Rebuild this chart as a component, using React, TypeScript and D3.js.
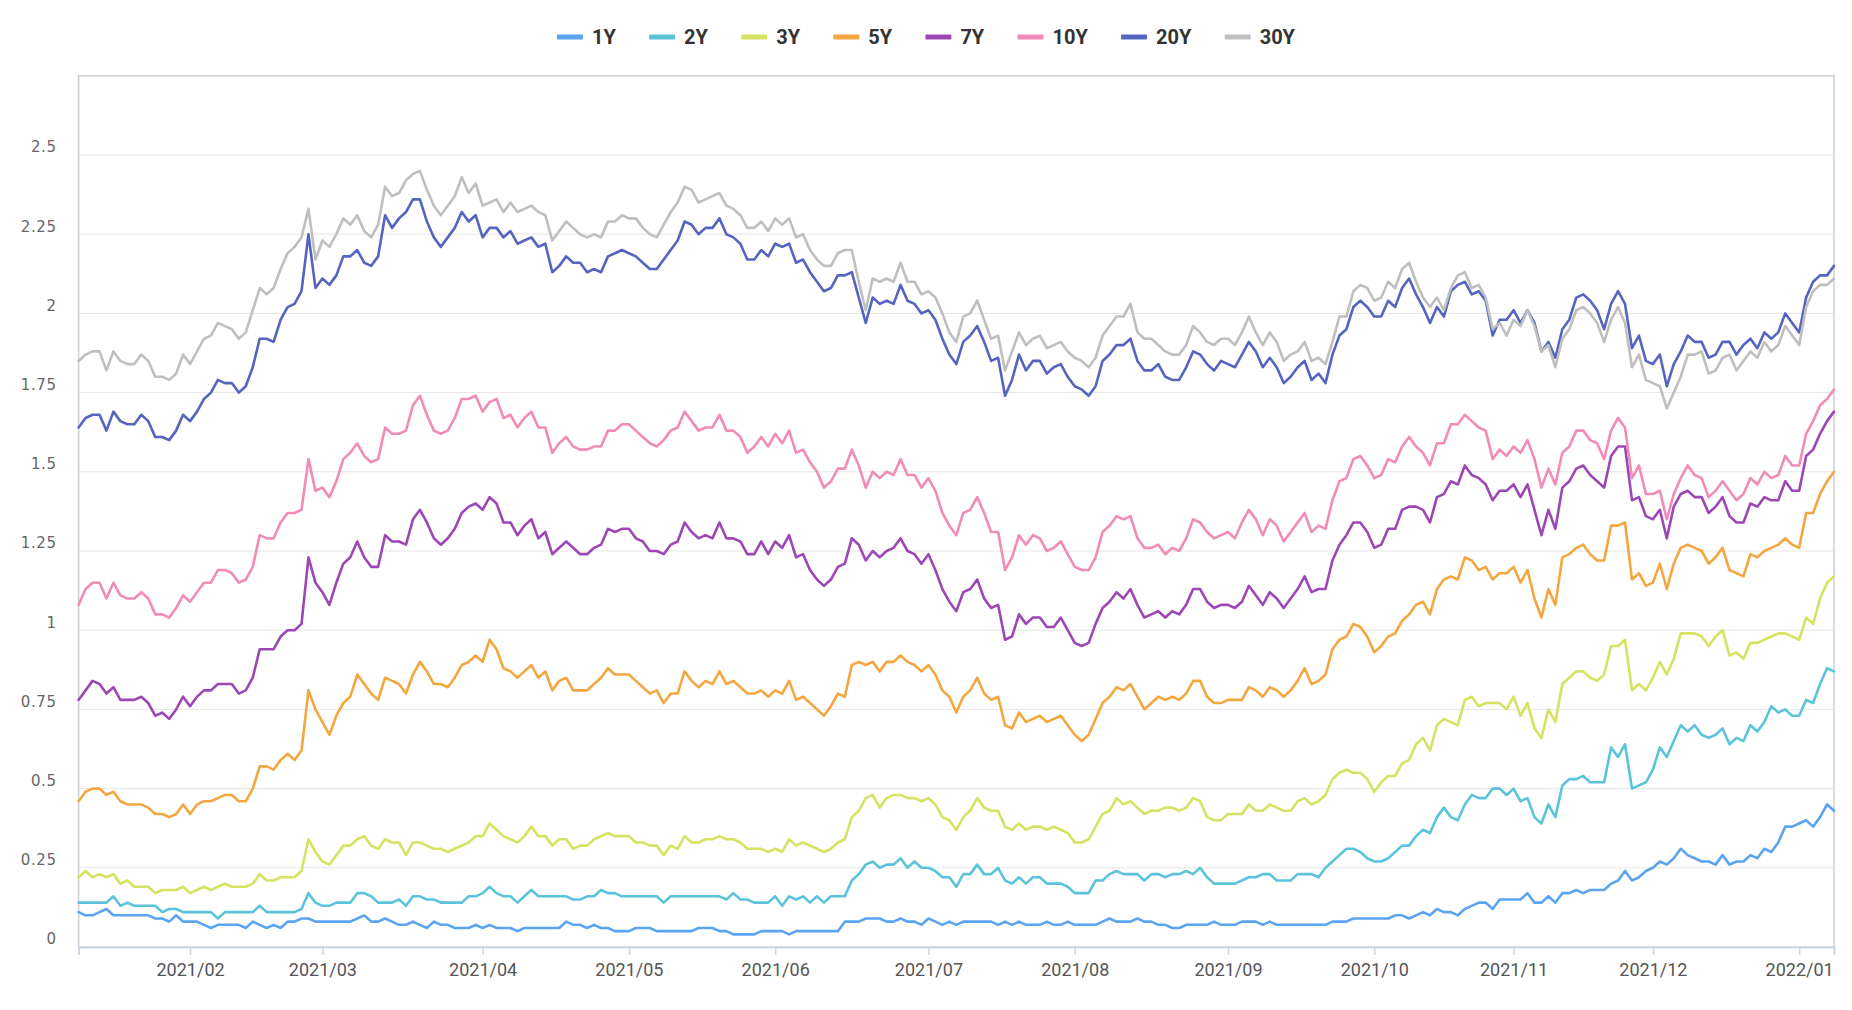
import React, { useEffect, useRef } from 'react';
import * as d3 from 'd3';

const W = 1852;
const H = 1010;

const seriesNames = ['1Y', '2Y', '3Y', '5Y', '7Y', '10Y', '20Y', '30Y'];
const seriesColors = ['#5ba4f2', '#5bc4da', '#d6e262', '#f4a641', '#9d47b6', '#f18bb7', '#5564bf', '#bfbfbf'];

const tickLabels = ['2021/02', '2021/03', '2021/04', '2021/05', '2021/06', '2021/07', '2021/08', '2021/09', '2021/10', '2021/11', '2021/12', '2022/01'];
const tickIndex = [16, 35, 58, 79, 100, 122, 143, 165, 186, 206, 226, 247];
const yTickValues = [0, 0.25, 0.5, 0.75, 1, 1.25, 1.5, 1.75, 2, 2.25, 2.5];

const y1 = [
  0.11,0.10,0.10,0.11,0.12,0.10,0.10,0.10,0.10,0.10,0.10,0.09,0.09,0.08,0.10,0.08,0.08,0.08,0.07,0.06,0.07,0.07,0.07,0.07,0.06,0.08,0.07,0.06,0.07,0.06,0.08,0.08,0.09,
  0.09,0.08,0.08,0.08,0.08,0.08,0.08,0.09,0.10,0.08,0.08,0.09,0.08,0.07,0.07,0.08,0.07,0.06,0.08,0.07,0.07,0.06,0.06,0.06,0.07,0.06,0.07,0.06,0.06,0.06,0.05,0.06,
  0.06,0.06,0.06,0.06,0.06,0.08,0.07,0.07,0.06,0.07,0.06,0.06,0.05,0.05,0.05,0.06,0.06,0.06,0.05,0.05,0.05,0.05,0.05,0.05,0.06,0.06,0.06,0.05,0.05,0.04,0.04,0.04,
  0.04,0.05,0.05,0.05,0.05,0.04,0.05,0.05,0.05,0.05,0.05,0.05,0.05,0.08,0.08,0.08,0.09,0.09,0.09,0.08,0.08,0.09,0.08,0.08,0.07,0.09,0.08,0.07,0.08,0.07,0.08,
  0.08,0.08,0.08,0.08,0.07,0.08,0.07,0.08,0.07,0.07,0.07,0.08,0.07,0.07,0.08,0.07,0.07,0.07,0.07,0.08,0.09,0.08,0.08,0.08,0.09,0.08,0.08,0.07,0.07,0.06,0.06,0.07,
  0.07,0.07,0.07,0.08,0.07,0.07,0.07,0.08,0.08,0.08,0.07,0.08,0.07,0.07,0.07,0.07,0.07,0.07,0.07,0.07,0.08,0.08,0.08,0.09,0.09,0.09,0.09,0.09,0.09,0.10,0.10,
  0.09,0.10,0.11,0.10,0.12,0.11,0.11,0.10,0.12,0.13,0.14,0.14,0.12,0.15,0.15,0.15,0.15,0.17,0.14,0.14,0.16,0.14,0.17,0.17,0.18,0.17,0.18,0.18,0.18,0.20,0.21,0.24,
  0.21,0.22,0.24,0.25,0.27,0.26,0.28,0.31,0.29,0.28,0.27,0.27,0.26,0.29,0.26,0.27,0.27,0.29,0.28,0.31,0.30,0.33,0.38,0.38,0.39,0.40,0.38,0.41,0.45,0.43,
];

const y2 = [
  0.14,0.14,0.14,0.14,0.14,0.16,0.13,0.14,0.13,0.13,0.13,0.13,0.11,0.12,0.12,0.11,0.11,0.11,0.11,0.11,0.09,0.11,0.11,0.11,0.11,0.11,0.13,0.11,0.11,0.11,0.11,0.11,0.12,
  0.17,0.14,0.13,0.13,0.14,0.14,0.14,0.17,0.17,0.16,0.14,0.14,0.14,0.15,0.13,0.16,0.16,0.15,0.15,0.14,0.14,0.14,0.14,0.16,0.16,0.17,0.19,0.17,0.16,0.16,0.14,0.16,
  0.18,0.16,0.16,0.16,0.16,0.16,0.15,0.15,0.16,0.16,0.18,0.17,0.17,0.16,0.16,0.16,0.16,0.16,0.16,0.14,0.16,0.16,0.16,0.16,0.16,0.16,0.16,0.16,0.15,0.17,0.15,0.15,
  0.14,0.14,0.14,0.16,0.13,0.16,0.15,0.16,0.14,0.16,0.14,0.16,0.16,0.16,0.21,0.23,0.26,0.27,0.25,0.26,0.26,0.28,0.25,0.27,0.25,0.25,0.24,0.22,0.22,0.19,0.23,
  0.23,0.26,0.23,0.23,0.25,0.21,0.20,0.22,0.20,0.22,0.22,0.20,0.20,0.20,0.19,0.17,0.17,0.17,0.21,0.21,0.23,0.24,0.23,0.23,0.23,0.21,0.23,0.23,0.22,0.23,0.23,0.24,
  0.23,0.25,0.22,0.20,0.20,0.20,0.20,0.21,0.22,0.22,0.23,0.23,0.21,0.21,0.21,0.23,0.23,0.23,0.22,0.25,0.27,0.29,0.31,0.31,0.30,0.28,0.27,0.27,0.28,0.30,0.32,
  0.32,0.35,0.37,0.36,0.41,0.44,0.41,0.40,0.45,0.48,0.47,0.47,0.50,0.50,0.48,0.50,0.46,0.47,0.41,0.39,0.45,0.41,0.51,0.53,0.53,0.54,0.52,0.52,0.52,0.63,0.60,0.64,
  0.50,0.51,0.52,0.56,0.63,0.60,0.65,0.70,0.68,0.70,0.67,0.66,0.67,0.69,0.64,0.66,0.65,0.70,0.68,0.71,0.76,0.74,0.75,0.73,0.73,0.78,0.77,0.83,0.88,0.87,
];

const y3 = [
  0.22,0.24,0.22,0.23,0.22,0.23,0.20,0.21,0.19,0.19,0.19,0.17,0.18,0.18,0.18,0.19,0.17,0.18,0.19,0.18,0.19,0.20,0.19,0.19,0.19,0.20,0.23,0.21,0.21,0.22,0.22,0.22,0.24,
  0.34,0.30,0.27,0.26,0.29,0.32,0.32,0.34,0.35,0.32,0.31,0.34,0.33,0.33,0.29,0.33,0.33,0.32,0.31,0.31,0.30,0.31,0.32,0.33,0.35,0.35,0.39,0.37,0.35,0.34,0.33,0.35,
  0.38,0.35,0.35,0.32,0.34,0.34,0.31,0.32,0.32,0.34,0.35,0.36,0.35,0.35,0.35,0.33,0.33,0.32,0.32,0.29,0.32,0.31,0.35,0.33,0.33,0.34,0.34,0.35,0.34,0.34,0.33,0.31,
  0.31,0.31,0.30,0.31,0.30,0.34,0.32,0.33,0.32,0.31,0.30,0.31,0.33,0.34,0.41,0.43,0.47,0.48,0.44,0.47,0.48,0.48,0.47,0.47,0.46,0.47,0.45,0.41,0.40,0.37,0.41,
  0.43,0.47,0.44,0.43,0.43,0.38,0.37,0.39,0.37,0.38,0.38,0.37,0.38,0.37,0.36,0.33,0.33,0.34,0.38,0.42,0.43,0.47,0.45,0.46,0.44,0.42,0.43,0.43,0.44,0.44,0.43,0.44,
  0.47,0.46,0.41,0.40,0.40,0.42,0.42,0.42,0.45,0.43,0.43,0.45,0.44,0.43,0.43,0.46,0.47,0.45,0.46,0.48,0.53,0.55,0.56,0.55,0.55,0.53,0.49,0.52,0.54,0.54,0.58,
  0.59,0.64,0.66,0.62,0.70,0.72,0.71,0.70,0.78,0.79,0.76,0.77,0.77,0.77,0.75,0.79,0.73,0.77,0.69,0.66,0.75,0.71,0.83,0.85,0.87,0.87,0.85,0.84,0.86,0.95,0.95,0.97,
  0.81,0.83,0.81,0.85,0.90,0.86,0.91,0.99,0.99,0.99,0.98,0.95,0.98,1.00,0.92,0.93,0.91,0.96,0.96,0.97,0.98,0.99,0.99,0.98,0.97,1.04,1.02,1.10,1.15,1.17,
];

const y5 = [
  0.46,0.49,0.50,0.50,0.48,0.49,0.46,0.45,0.45,0.45,0.44,0.42,0.42,0.41,0.42,0.45,0.42,0.45,0.46,0.46,0.47,0.48,0.48,0.46,0.46,0.50,0.57,0.57,0.56,0.59,0.61,0.59,0.62,
  0.81,0.75,0.71,0.67,0.73,0.77,0.79,0.86,0.83,0.80,0.78,0.85,0.84,0.83,0.80,0.86,0.90,0.87,0.83,0.83,0.82,0.85,0.89,0.90,0.92,0.90,0.97,0.94,0.88,0.87,0.85,0.87,
  0.89,0.85,0.87,0.81,0.84,0.85,0.81,0.81,0.81,0.83,0.85,0.88,0.86,0.86,0.86,0.84,0.82,0.80,0.81,0.77,0.80,0.80,0.87,0.84,0.82,0.84,0.83,0.87,0.83,0.84,0.82,0.80,
  0.80,0.81,0.79,0.81,0.80,0.84,0.78,0.79,0.77,0.75,0.73,0.76,0.80,0.79,0.89,0.90,0.89,0.90,0.87,0.90,0.90,0.92,0.90,0.89,0.87,0.89,0.86,0.81,0.79,0.74,0.79,
  0.81,0.85,0.80,0.78,0.79,0.70,0.69,0.74,0.71,0.72,0.73,0.71,0.72,0.73,0.70,0.67,0.65,0.67,0.72,0.77,0.79,0.82,0.81,0.83,0.79,0.75,0.77,0.79,0.78,0.79,0.78,0.80,
  0.84,0.84,0.79,0.77,0.77,0.78,0.78,0.78,0.82,0.81,0.79,0.82,0.81,0.79,0.81,0.84,0.88,0.83,0.84,0.86,0.94,0.97,0.98,1.02,1.01,0.98,0.93,0.95,0.98,0.99,1.03,
  1.05,1.08,1.09,1.05,1.13,1.16,1.17,1.16,1.23,1.22,1.19,1.20,1.16,1.18,1.18,1.20,1.15,1.19,1.10,1.04,1.13,1.08,1.23,1.24,1.26,1.27,1.24,1.22,1.22,1.33,1.33,1.34,
  1.16,1.18,1.14,1.15,1.21,1.13,1.21,1.26,1.27,1.26,1.25,1.21,1.23,1.26,1.19,1.18,1.17,1.24,1.23,1.25,1.26,1.27,1.29,1.27,1.26,1.37,1.37,1.43,1.47,1.50,
];

const y7 = [
  0.78,0.81,0.84,0.83,0.80,0.82,0.78,0.78,0.78,0.79,0.77,0.73,0.74,0.72,0.75,0.79,0.76,0.79,0.81,0.81,0.83,0.83,0.83,0.80,0.81,0.85,0.94,0.94,0.94,0.98,1.00,1.00,1.02,
  1.23,1.15,1.12,1.08,1.15,1.21,1.23,1.28,1.23,1.20,1.20,1.30,1.28,1.28,1.27,1.35,1.38,1.34,1.29,1.27,1.29,1.32,1.37,1.39,1.40,1.38,1.42,1.40,1.34,1.34,1.30,1.33,
  1.35,1.29,1.31,1.24,1.26,1.28,1.26,1.24,1.24,1.26,1.27,1.32,1.31,1.32,1.32,1.29,1.28,1.25,1.25,1.24,1.27,1.28,1.34,1.31,1.29,1.30,1.29,1.34,1.29,1.29,1.28,1.24,
  1.24,1.28,1.24,1.28,1.26,1.30,1.23,1.24,1.19,1.16,1.14,1.16,1.20,1.21,1.29,1.27,1.22,1.25,1.23,1.25,1.26,1.29,1.25,1.24,1.21,1.24,1.19,1.13,1.09,1.06,1.12,
  1.13,1.16,1.10,1.07,1.08,0.97,0.98,1.05,1.02,1.04,1.04,1.01,1.01,1.04,1.00,0.96,0.95,0.96,1.02,1.07,1.09,1.12,1.10,1.13,1.08,1.04,1.05,1.06,1.04,1.06,1.05,1.08,
  1.13,1.13,1.09,1.07,1.08,1.08,1.07,1.09,1.14,1.11,1.08,1.12,1.10,1.07,1.10,1.13,1.17,1.12,1.13,1.13,1.22,1.27,1.30,1.34,1.34,1.31,1.26,1.27,1.32,1.32,1.38,
  1.39,1.39,1.38,1.34,1.42,1.43,1.47,1.46,1.52,1.49,1.48,1.46,1.41,1.44,1.44,1.46,1.42,1.46,1.38,1.30,1.38,1.32,1.45,1.47,1.51,1.52,1.49,1.47,1.45,1.55,1.58,1.58,
  1.41,1.42,1.36,1.35,1.38,1.29,1.39,1.43,1.44,1.42,1.42,1.37,1.39,1.42,1.36,1.34,1.34,1.40,1.39,1.42,1.41,1.41,1.47,1.44,1.44,1.55,1.57,1.62,1.66,1.69,
];

const y10 = [
  1.08,1.13,1.15,1.15,1.10,1.15,1.11,1.10,1.10,1.12,1.10,1.05,1.05,1.04,1.07,1.11,1.09,1.12,1.15,1.15,1.19,1.19,1.18,1.15,1.16,1.20,1.30,1.29,1.29,1.34,1.37,1.37,1.38,
  1.54,1.44,1.45,1.42,1.47,1.54,1.56,1.59,1.55,1.53,1.54,1.64,1.62,1.62,1.63,1.71,1.74,1.68,1.63,1.62,1.63,1.67,1.73,1.73,1.74,1.69,1.72,1.73,1.67,1.68,1.64,1.67,
  1.69,1.64,1.64,1.56,1.59,1.61,1.58,1.57,1.57,1.58,1.58,1.63,1.63,1.65,1.65,1.63,1.61,1.59,1.58,1.60,1.63,1.64,1.69,1.66,1.63,1.64,1.64,1.68,1.63,1.63,1.61,1.56,
  1.58,1.61,1.58,1.62,1.59,1.63,1.56,1.57,1.53,1.50,1.45,1.47,1.51,1.51,1.57,1.52,1.45,1.50,1.48,1.50,1.49,1.54,1.49,1.49,1.45,1.48,1.44,1.37,1.33,1.30,1.37,
  1.38,1.42,1.37,1.31,1.31,1.19,1.23,1.30,1.27,1.30,1.29,1.25,1.26,1.28,1.24,1.20,1.19,1.19,1.23,1.31,1.33,1.36,1.35,1.36,1.29,1.26,1.26,1.27,1.24,1.26,1.25,1.29,
  1.35,1.34,1.31,1.29,1.30,1.31,1.29,1.34,1.38,1.35,1.30,1.35,1.33,1.28,1.31,1.34,1.37,1.31,1.33,1.32,1.41,1.47,1.48,1.54,1.55,1.52,1.48,1.49,1.54,1.53,1.58,
  1.61,1.58,1.56,1.52,1.59,1.59,1.65,1.65,1.68,1.66,1.64,1.63,1.54,1.57,1.55,1.58,1.56,1.60,1.54,1.45,1.51,1.46,1.56,1.58,1.63,1.63,1.60,1.59,1.54,1.63,1.67,1.64,
  1.48,1.52,1.43,1.43,1.44,1.35,1.43,1.48,1.52,1.49,1.48,1.42,1.44,1.47,1.44,1.41,1.43,1.48,1.46,1.50,1.48,1.49,1.55,1.52,1.52,1.62,1.66,1.71,1.73,1.76,
];

const y20 = [
  1.64,1.67,1.68,1.68,1.63,1.69,1.66,1.65,1.65,1.68,1.66,1.61,1.61,1.60,1.63,1.68,1.66,1.69,1.73,1.75,1.79,1.78,1.78,1.75,1.77,1.83,1.92,1.92,1.91,1.98,2.02,2.03,2.07,
  2.25,2.08,2.11,2.09,2.12,2.18,2.18,2.20,2.16,2.15,2.18,2.31,2.27,2.30,2.32,2.36,2.36,2.29,2.24,2.21,2.24,2.27,2.32,2.29,2.31,2.24,2.27,2.27,2.24,2.26,2.22,2.23,
  2.24,2.21,2.22,2.13,2.15,2.18,2.16,2.16,2.13,2.14,2.13,2.18,2.19,2.20,2.19,2.18,2.16,2.14,2.14,2.17,2.20,2.23,2.29,2.28,2.25,2.27,2.27,2.30,2.25,2.24,2.22,2.17,
  2.17,2.20,2.18,2.22,2.21,2.22,2.16,2.17,2.13,2.10,2.07,2.08,2.12,2.12,2.13,2.05,1.97,2.05,2.03,2.04,2.03,2.09,2.04,2.03,2.00,2.01,1.98,1.92,1.87,1.84,1.91,
  1.93,1.96,1.91,1.85,1.86,1.74,1.79,1.87,1.82,1.85,1.85,1.81,1.83,1.84,1.80,1.77,1.76,1.74,1.77,1.85,1.87,1.90,1.90,1.92,1.85,1.82,1.82,1.84,1.80,1.79,1.79,1.83,
  1.88,1.87,1.84,1.82,1.85,1.84,1.83,1.87,1.91,1.88,1.83,1.86,1.83,1.78,1.80,1.83,1.85,1.79,1.81,1.78,1.87,1.93,1.95,2.02,2.04,2.02,1.99,1.99,2.04,2.02,2.08,
  2.11,2.06,2.02,1.97,2.02,1.99,2.07,2.09,2.10,2.06,2.07,2.04,1.93,1.98,1.98,2.01,1.97,2.01,1.97,1.88,1.91,1.86,1.95,1.98,2.05,2.06,2.04,2.01,1.95,2.03,2.07,2.03,
  1.89,1.93,1.85,1.84,1.87,1.77,1.84,1.88,1.93,1.91,1.91,1.86,1.87,1.91,1.91,1.87,1.90,1.92,1.89,1.94,1.92,1.94,2.00,1.97,1.94,2.05,2.10,2.12,2.12,2.15,
];

const y30 = [
  1.85,1.87,1.88,1.88,1.82,1.88,1.85,1.84,1.84,1.87,1.85,1.80,1.80,1.79,1.81,1.87,1.84,1.88,1.92,1.93,1.97,1.96,1.95,1.92,1.94,2.01,2.08,2.06,2.08,2.14,2.19,2.21,2.24,
  2.33,2.17,2.23,2.21,2.25,2.30,2.28,2.31,2.26,2.24,2.28,2.40,2.37,2.38,2.42,2.44,2.45,2.39,2.34,2.31,2.34,2.37,2.43,2.38,2.41,2.34,2.35,2.36,2.32,2.35,2.32,2.33,
  2.34,2.32,2.31,2.23,2.26,2.29,2.27,2.25,2.24,2.25,2.24,2.29,2.29,2.31,2.30,2.30,2.27,2.25,2.24,2.28,2.32,2.35,2.40,2.39,2.35,2.36,2.37,2.38,2.34,2.33,2.31,2.27,
  2.27,2.29,2.26,2.30,2.28,2.30,2.24,2.25,2.20,2.17,2.15,2.15,2.19,2.20,2.20,2.10,2.01,2.11,2.10,2.11,2.10,2.16,2.10,2.10,2.06,2.07,2.05,2.00,1.94,1.91,1.99,
  2.00,2.04,1.98,1.92,1.93,1.82,1.88,1.94,1.90,1.92,1.93,1.89,1.90,1.91,1.88,1.86,1.85,1.83,1.86,1.93,1.96,1.99,1.99,2.03,1.94,1.92,1.92,1.90,1.88,1.87,1.87,1.90,
  1.96,1.94,1.91,1.90,1.92,1.92,1.90,1.94,1.99,1.94,1.90,1.94,1.91,1.85,1.87,1.88,1.91,1.85,1.86,1.84,1.91,1.99,1.99,2.07,2.09,2.08,2.04,2.05,2.10,2.08,2.14,
  2.16,2.10,2.05,2.02,2.05,2.01,2.08,2.12,2.13,2.08,2.09,2.05,1.95,1.97,1.93,1.98,1.96,2.01,1.96,1.88,1.90,1.83,1.92,1.95,2.01,2.02,2.00,1.97,1.91,1.98,2.02,1.97,
  1.83,1.87,1.79,1.78,1.77,1.70,1.75,1.80,1.87,1.87,1.88,1.81,1.82,1.86,1.87,1.82,1.85,1.88,1.86,1.91,1.88,1.90,1.96,1.93,1.90,2.02,2.07,2.09,2.09,2.11,
];

const seriesValues = [y1, y2, y3, y5, y7, y10, y20, y30];

const PLOT_LEFT = 78.6;
const PLOT_RIGHT = 1834;
const PLOT_BOTTOM = 947;
const Y_MAX = 2.75;
const PLOT_TOP = 75.8;
const LEGEND_SPAN = 738;

export default function App() {
  const ref = useRef<SVGSVGElement | null>(null);

  useEffect(() => {
    document.body.style.margin = '0';
    const svg = d3.select(ref.current);
    svg.selectAll('*').remove();
    const n = y10.length;

    const x = d3.scaleLinear().domain([0, n - 1]).range([PLOT_LEFT, PLOT_RIGHT]);
    const y = d3.scaleLinear().domain([0, Y_MAX]).range([PLOT_BOTTOM, PLOT_TOP]);

    svg.append('g')
      .selectAll('line')
      .data(yTickValues.filter((v) => v > 0))
      .join('line')
      .attr('x1', PLOT_LEFT)
      .attr('x2', PLOT_RIGHT)
      .attr('y1', (d) => y(d))
      .attr('y2', (d) => y(d))
      .attr('stroke', '#e6e6e6')
      .attr('stroke-width', 1);

    svg.append('rect')
      .attr('x', PLOT_LEFT)
      .attr('y', y(Y_MAX))
      .attr('width', PLOT_RIGHT - PLOT_LEFT)
      .attr('height', PLOT_BOTTOM - y(Y_MAX))
      .attr('fill', 'none')
      .attr('stroke', '#cfcfcf')
      .attr('stroke-width', 1.5);

    const line = d3.line<number>().x((_, i) => x(i)).y((d) => y(d));
    seriesValues.forEach((vals, k) => {
      svg.append('path')
        .attr('d', line(vals) as string)
        .attr('fill', 'none')
        .attr('stroke', seriesColors[k])
        .attr('stroke-width', 2.6)
        .attr('stroke-linejoin', 'round')
        .attr('stroke-linecap', 'round');
    });

    const xAxis = d3.axisBottom(x)
      .tickValues(tickIndex)
      .tickFormat((_, i) => tickLabels[i])
      .tickSize(8)
      .tickPadding(8);
    const gx = svg.append('g').attr('transform', `translate(0,${PLOT_BOTTOM})`).call(xAxis);
    gx.select('.domain').attr('stroke', '#ccd6eb').attr('stroke-width', 2);
    gx.selectAll('.tick line').attr('stroke', '#ccd6eb').attr('stroke-width', 1.5);
    gx.selectAll('.tick text')
      .attr('fill', '#555')
      .attr('font-family', '"Liberation Sans Narrow", "Arial Narrow", "Roboto", sans-serif')
      .attr('font-size', 18);

    const yAxis = d3.axisLeft(y)
      .tickValues(yTickValues)
      .tickFormat((d) => String(+d))
      .tickSize(0)
      .tickPadding(22);
    const gy = svg.append('g').attr('transform', `translate(${PLOT_LEFT},0)`).call(yAxis);
    gy.select('.domain').remove();
    gy.selectAll('.tick text')
      .attr('y', -8)
      .attr('fill', '#666')
      .attr('font-family', '"DejaVu Sans", Verdana, sans-serif')
      .attr('font-size', 15)
      .attr('letter-spacing', 0.6);

    const legend = svg.append('g');
    const items = legend.selectAll('g').data(seriesNames).join('g');
    items.append('rect')
      .attr('x', 0)
      .attr('y', -2.5)
      .attr('width', 26)
      .attr('height', 5)
      .attr('rx', 1)
      .attr('fill', (_, i) => seriesColors[i]);
    const texts = items.append('text')
      .attr('x', 35)
      .attr('y', 0)
      .attr('dy', '0.35em')
      .attr('fill', '#333')
      .attr('font-weight', 'bold')
      .attr('font-family', '"Liberation Sans Narrow", "Arial Narrow", "Roboto", sans-serif')
      .attr('font-size', 20)
      .text((d) => d);
    const widths: number[] = [];
    texts.each(function () {
      widths.push((this as SVGTextElement).getComputedTextLength());
    });
    const itemW = widths.map((w) => 35 + w);
    const gap = (LEGEND_SPAN - d3.sum(itemW)) / (itemW.length - 1);
    let cx = W / 2 - LEGEND_SPAN / 2;
    items.attr('transform', (_, i) => {
      const t = `translate(${cx},37)`;
      cx += itemW[i] + gap;
      return t;
    });
  }, []);

  return (
    <svg
      ref={ref}
      width={W}
      height={H}
      style={{ position: 'absolute', left: 0, top: 0, background: '#fff', display: 'block' }}
    />
  );
}
